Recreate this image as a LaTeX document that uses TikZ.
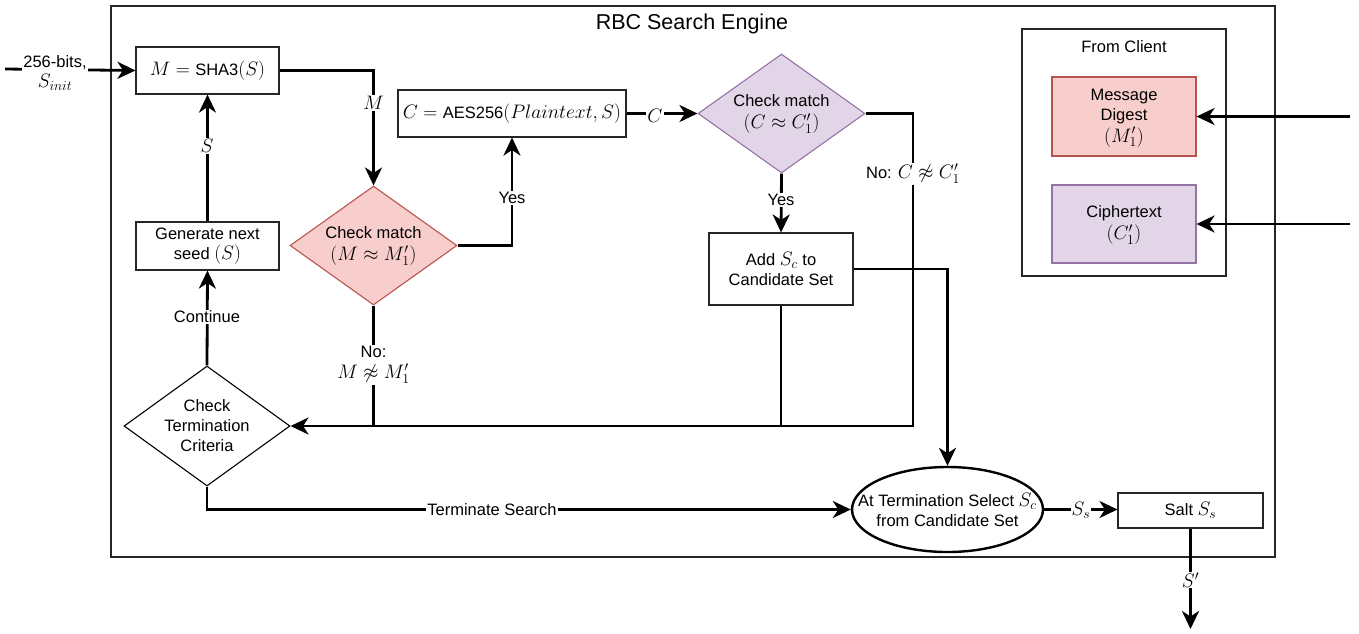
\RequirePackage{fix-cm}
\documentclass[tikz,border=0pt]{standalone}
\usepackage{fontspec}
\setmainfont{Liberation Sans}
\DeclareMathSizes{16.5}{19.5}{13.8}{10.5}
\usetikzlibrary{arrows.meta,shapes.geometric}
\definecolor{redfill}{HTML}{F8CECC}
\definecolor{reddraw}{HTML}{B85450}
\definecolor{purfill}{HTML}{E1D5E7}
\definecolor{purdraw}{HTML}{9673A6}
\tikzset{
  box/.style={draw=black!85, line width=1.1pt, rectangle, inner sep=0pt, align=center},
  dia/.style={diamond, inner sep=0pt, minimum width=167pt, minimum height=119pt, line width=1.1pt},
  conn/.style={line width=2.8pt},
  arr/.style={conn, -{Stealth[length=18pt,width=17pt,inset=5.5pt]}},
  lbl/.style={fill=white, inner sep=1pt, align=center},
  txt/.style={align=center, inner sep=0pt}
}
\begin{document}
\begin{tikzpicture}[x=1pt,y=-1pt, font=\fontsize{16.5}{20}\selectfont]
\useasboundingbox (0,0) rectangle (1359,633);
% outer container
\node[draw=black!85, line width=1.1pt, minimum width=1164pt, minimum height=551pt, inner sep=0pt] (outer) at (693,281.5) {};
\node[txt, font=\fontsize{21.5}{24}\selectfont] (title) at (692,24) {RBC Search Engine};

% client box
\node[draw=black!85, line width=1.1pt, minimum width=204pt, minimum height=247pt, inner sep=0pt] (client) at (1124,152.5) {};
\node[txt] (clienttitle) at (1124,47) {From Client};
\node[box, draw=reddraw, fill=redfill, minimum width=144pt, minimum height=79pt] (md) at (1124,116.5) {};
\node[txt] (mdt) at (1124,118) {Message\\Digest\\[1.5pt]$(M'_1)$};
\node[box, draw=purdraw, fill=purfill, minimum width=144pt, minimum height=78pt] (ct) at (1124,224) {};
\node[txt] (ctt) at (1124,225) {Ciphertext\\[1.5pt]$(C'_1)$};

% main nodes
\node[box, minimum width=143pt, minimum height=47pt] (sha) at (207.5,70.5) {$M=\mbox{SHA3}(S)$};
\node[box, minimum width=143pt, minimum height=48pt] (gen) at (207.5,246) {Generate next\\seed $(S)$};
\node[dia, draw=reddraw, fill=redfill] (d1) at (373.5,245.5) {};
\node[txt] (d1t) at (373.5,246) {Check match\\[1.5pt]$(M\approx M'_1)$};
\node[box, minimum width=228pt, minimum height=47pt] (aes) at (512,113.5) {$C=\mbox{AES256}(Plaintext,S)$};
\node[dia, draw=purdraw, fill=purfill] (d2) at (781.5,113.5) {};
\node[txt] (d2t) at (781.5,114) {Check match\\[1.5pt]$(C\approx C'_1)$};
\node[box, minimum width=144pt, minimum height=72pt] (add) at (781,269) {Add $S_c$ to\\Candidate Set};
\node[dia, draw=black, fill=white, minimum width=166pt, minimum height=120pt] (term) at (207,426) {};
\node[txt] (termt) at (207,426) {Check\\Termination\\Criteria};
\node[ellipse, draw=black, line width=2.4pt, minimum width=191pt, minimum height=85pt, inner sep=0pt] (ell) at (947.5,509.5) {};
\node[txt] (ellt) at (947.5,509.5) {At Termination Select $S_c$\\from Candidate Set};
\node[box, minimum width=145pt, minimum height=35pt] (salt) at (1190.5,510.5) {Salt $S_s$};

% free ends and joins
\coordinate (in) at (5,69);
\coordinate (j1) at (913,426);
\coordinate (j2) at (781,426);
\coordinate (j3) at (373.5,426);
\coordinate (out) at (1190.5,629);
\coordinate (c1) at (1350,116.5);
\coordinate (c2) at (1350,224);

% connectors
\draw[arr] (in) -- (sha.west);
\draw[arr] (sha.east) -| (d1.north);
\draw[arr] (d1.east) -| (aes.south);
\draw[arr] (aes.east) -- (d2.west);
\draw[arr] (d2.south) -- (add.north);
\draw[arr] (d2.east) -| (j1) -- (term.east);
\draw[conn] (add.south) -- (j2);
\draw[conn] (d1.south) -- (j3);
\draw[arr] (add.east) -| (ell.north);
\draw[arr] (term.north) -- (gen.south);
\draw[arr] (gen.north) -- (sha.south);
\draw[arr] (term.south) |- (ell.west);
\draw[arr] (ell.east) -- (ell.east -| salt.west);
\draw[arr] (salt.south) -- (out);
\draw[arr] (c1) -- (md.east);
\draw[arr] (c2) -- (ct.east);

% labels
\node[lbl] (lin) at (55,73) {256-bits,\\$S_{init}$};
\node[lbl] (lM) at (373.5,103) {$M$};
\node[lbl] (lyes1) at (512,198) {Yes};
\node[lbl] (lC) at (655,116) {$C$};
\node[lbl] (lyes2) at (781,200) {Yes};
\node[lbl] (lno2) at (913,174) {No: $C\not\approx C'_1$};
\node[lbl] (lno1) at (373.5,365) {No:\\[1pt]$M\not\approx M'_1$};
\node[lbl] (lcont) at (207,317) {Continue};
\node[lbl] (lS) at (207,146) {$S$};
\node[lbl] (lterm) at (492,510) {Terminate Search};
\node[lbl] (lSs) at (1081,510) {$S_s$};
\node[lbl] (lSp) at (1190.5,580) {$S'$};
\end{tikzpicture}
\end{document}
